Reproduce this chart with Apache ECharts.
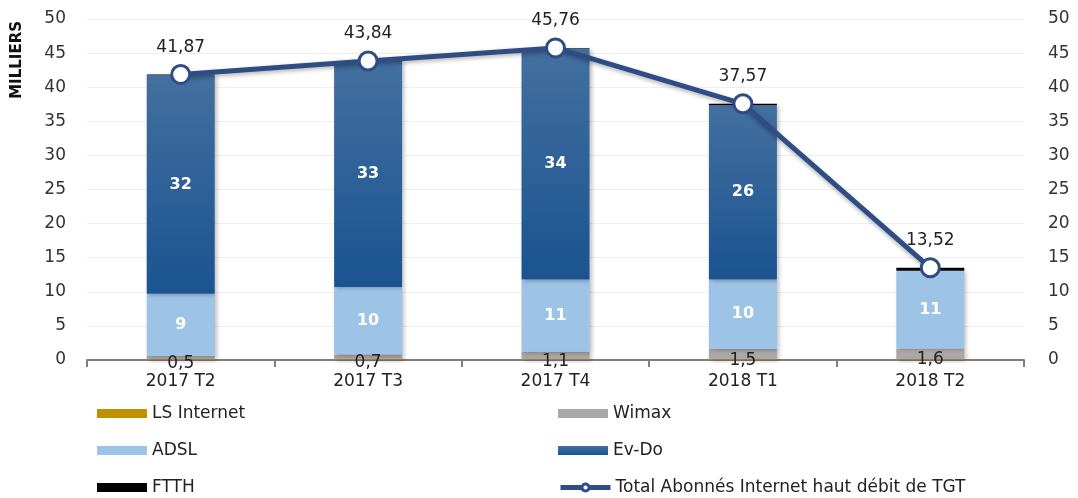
<!DOCTYPE html>
<html><head><meta charset="utf-8">
<script src="https://cdn.jsdelivr.net/npm/echarts@6/dist/echarts.min.js"></script>
<style>html,body{margin:0;padding:0;background:#fff}#c{width:1078px;height:498px}</style>
</head><body><div id="c"></div>
<script>
const categories = ['2017 T2','2017 T3','2017 T4','2018 T1','2018 T2'];
const lsInternet = [0.1, 0.1, 0.1, 0.1, 0.1];
const wimax = [0.5, 0.7, 1.1, 1.5, 1.6];
const adsl = [9.1, 9.9, 10.6, 10.2, 11.4];
const evdo = [32.1, 33.07, 33.86, 25.57, 0];
const ftth = [0.07, 0.07, 0.1, 0.2, 0.42];
const total = [41.87, 43.84, 45.76, 37.57, 13.52];
const yTicks = [0, 5, 10, 15, 20, 25, 30, 35, 40, 45, 50];

const FONT = '"DejaVu Sans", Verdana, sans-serif';
const comma = (v, d) => v.toFixed(d).replace('.', ',');
const shadow = {shadowBlur: 4, shadowOffsetX: 2, shadowOffsetY: 1, shadowColor: 'rgba(0,0,0,0.25)'};
const TOTAL_NAME = 'Total Abonnés Internet haut débit de TGT';

const legendPos = [
  ['LS Internet', 97, 405], ['Wimax', 558, 405],
  ['ADSL', 97, 442], ['Ev-Do', 558, 442],
  ['FTTH', 97, 479], [TOTAL_NAME, 558, 479]
];

const chart = echarts.init(document.getElementById('c'), null, {renderer: 'canvas'});
chart.setOption({
  animation: false,
  textStyle: {fontFamily: FONT},
  grid: {left: 87, right: 54, top: 19, bottom: 138},
  graphic: [{
    type: 'text', left: 10, top: 21, rotation: Math.PI / 2,
    style: {text: 'MILLIERS', font: 'bold 15px ' + FONT, fill: '#111'}
  }],
  legend: legendPos.map(([n, x, y]) => ({
    left: x, top: y, itemWidth: 50, itemHeight: 9, padding: 0, itemGap: 0,
    textStyle: {fontSize: 17, color: '#222', fontFamily: FONT},
    data: [n === TOTAL_NAME
      ? {name: n, itemStyle: {color: '#fff', borderColor: '#2f4d85', borderWidth: 3}, lineStyle: {width: 5, color: '#2f4d85'}}
      : {name: n, icon: 'rect'}]
  })),
  xAxis: {
    type: 'category', data: categories,
    axisLine: {lineStyle: {color: '#7f7f7f', width: 2}},
    axisTick: {show: true, length: 7, lineStyle: {color: '#7f7f7f', width: 2}},
    axisLabel: {color: '#222', fontSize: 17, margin: 13, fontFamily: FONT}
  },
  yAxis: [
    {type: 'value', min: 0, max: 50, interval: 5,
     axisLabel: {color: '#333', fontSize: 17, margin: 21, fontFamily: FONT,
                 formatter: v => yTicks.includes(v) ? String(v) : ''},
     splitLine: {lineStyle: {color: '#efefef'}}, axisLine: {show: false}, axisTick: {show: false}},
    {type: 'value', min: 0, max: 50, interval: 5, position: 'right',
     axisLabel: {color: '#333', fontSize: 17, margin: 24, fontFamily: FONT},
     splitLine: {show: false}, axisLine: {show: false}, axisTick: {show: false}}
  ],
  series: [
    {name: 'LS Internet', type: 'bar', stack: 's', barWidth: 68, data: lsInternet,
     itemStyle: Object.assign({color: '#c09000'}, shadow)},
    {name: 'Wimax', type: 'bar', stack: 's', data: wimax,
     itemStyle: Object.assign({color: '#aca6a6'}, shadow),
     label: {show: true, position: 'inside', offset: [0, 6], color: '#222', fontSize: 17, fontFamily: FONT,
             formatter: p => comma(p.value, 1)}},
    {name: 'ADSL', type: 'bar', stack: 's', data: adsl,
     itemStyle: Object.assign({color: '#9dc3e6'}, shadow),
     label: {show: true, position: 'inside', color: '#fff', fontSize: 16, fontWeight: 'bold', fontFamily: FONT,
             formatter: p => String(Math.round(p.value))}},
    {name: 'Ev-Do', type: 'bar', stack: 's', data: evdo,
     itemStyle: Object.assign({color: new echarts.graphic.LinearGradient(0, 0, 0, 1, [
        {offset: 0, color: '#43709f'}, {offset: 1, color: '#1a5390'}])}, shadow),
     label: {show: true, position: 'inside', color: '#fff', fontSize: 16, fontWeight: 'bold', fontFamily: FONT,
             formatter: p => p.value > 0 ? String(Math.round(p.value)) : ''}},
    {name: 'FTTH', type: 'bar', stack: 's', data: ftth,
     itemStyle: {color: '#000'}},
    {name: TOTAL_NAME, type: 'line', data: total,
     symbol: 'circle', symbolSize: 18, z: 10,
     lineStyle: {color: '#2f4d85', width: 5, shadowBlur: 4, shadowOffsetY: 2, shadowColor: 'rgba(0,0,0,0.3)'},
     itemStyle: {color: '#fff', borderColor: '#2f4d85', borderWidth: 3},
     label: {show: true, position: 'top', distance: 8, color: '#222', fontSize: 17, fontFamily: FONT,
             formatter: p => comma(p.value, 2)}}
  ]
});
</script></body></html>
